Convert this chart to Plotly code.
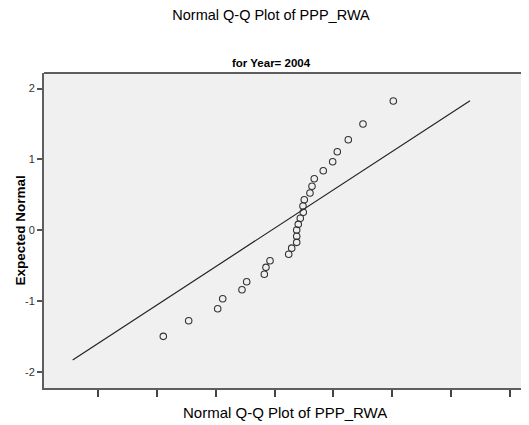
import plotly.graph_objects as go

observed = [1.106, 1.538, 2.032, 2.117, 2.445, 2.525, 2.825, 2.853, 2.922, 3.240,
            3.291, 3.376, 3.376, 3.376, 3.403, 3.437, 3.488, 3.483, 3.505, 3.602,
            3.636, 3.675, 3.828, 3.988, 4.067, 4.254, 4.504, 5.020]
expected = [-1.498, -1.277, -1.108, -0.967, -0.840, -0.727, -0.622, -0.524, -0.431, -0.340,
            -0.253, -0.171, -0.086, 0.003, 0.083, 0.168, 0.253, 0.342, 0.430, 0.525,
            0.620, 0.727, 0.840, 0.967, 1.108, 1.277, 1.499, 1.824]

# Reference (normal) line end points
ref_x = [-0.436, 6.325]
ref_y = [-1.832, 1.829]

x_ticks = [0, 1, 2, 3, 4, 5, 6, 7]
y_ticks = [-2, -1, 0, 1, 2]

FONT = "Liberation Sans, Arial, sans-serif"
W, H = 521, 417  # page body adds an 8px offset

fig = go.Figure()
fig.add_trace(go.Scatter(x=ref_x, y=ref_y, mode="lines",
                         line=dict(color="#222222", width=1.2), showlegend=False, hoverinfo="skip"))
fig.add_trace(go.Scatter(x=observed, y=expected, mode="markers",
                         marker=dict(symbol="circle-open", size=6.5, color="#333333",
                                     line=dict(width=1.1, color="#333333")),
                         showlegend=False))

fig.update_layout(
    width=W, height=H,
    margin=dict(l=36, r=0, t=65, b=37, pad=0),
    paper_bgcolor="white", plot_bgcolor="#f0f0f0",
    font=dict(family=FONT, color="#000000"),
    title=dict(text="Normal Q-Q Plot of PPP_RWA", x=(271 - 8) / W, xanchor="center",
               y=1 - (15 - 8) / H, yanchor="middle", yref="container",
               font=dict(size=14.5, family=FONT, color="#000000")),
    xaxis=dict(range=[-0.924, 7.329], tickvals=x_ticks, showticklabels=False,
               ticks="outside", ticklen=7, tickwidth=2, tickcolor="#444444",
               showline=True, linecolor="#5e5e5e", linewidth=2,
               showgrid=False, zeroline=False, fixedrange=True),
    yaxis=dict(range=[-2.227, 2.219], tickvals=y_ticks, ticktext=[str(v) for v in y_ticks],
               ticks="outside", ticklen=5, tickwidth=1.5, tickcolor="#555555",
               tickfont=dict(size=11, color="#333333", family=FONT),
               showline=True, linecolor="#5e5e5e", linewidth=2,
               showgrid=False, zeroline=False, fixedrange=True),
    shapes=[dict(type="line", xref="paper", yref="paper", x0=0, x1=1, y0=1, y1=1,
                 line=dict(color="#5e5e5e", width=2))],
    annotations=[
        dict(text="<b>for Year= 2004</b>", xref="paper", yref="paper",
             x=(271 - 44) / 485, y=(388 - 63) / 315, xanchor="center", yanchor="middle",
             showarrow=False, font=dict(size=11.5, family=FONT, color="#000000")),
        dict(text="Normal Q-Q Plot of PPP_RWA", xref="paper", yref="paper",
             x=(285 - 44) / 485, y=(388 - 412) / 315, xanchor="center", yanchor="middle",
             showarrow=False, font=dict(size=15, family=FONT, color="#000000")),
        dict(text="<b>Expected Normal</b>", xref="paper", yref="paper",
             x=(20 - 44) / 485, y=0.5, xanchor="center", yanchor="middle", textangle=-90,
             showarrow=False, font=dict(size=13.5, family=FONT, color="#000000")),
    ],
)

fig.write_html("out.html", config={"displayModeBar": False})
